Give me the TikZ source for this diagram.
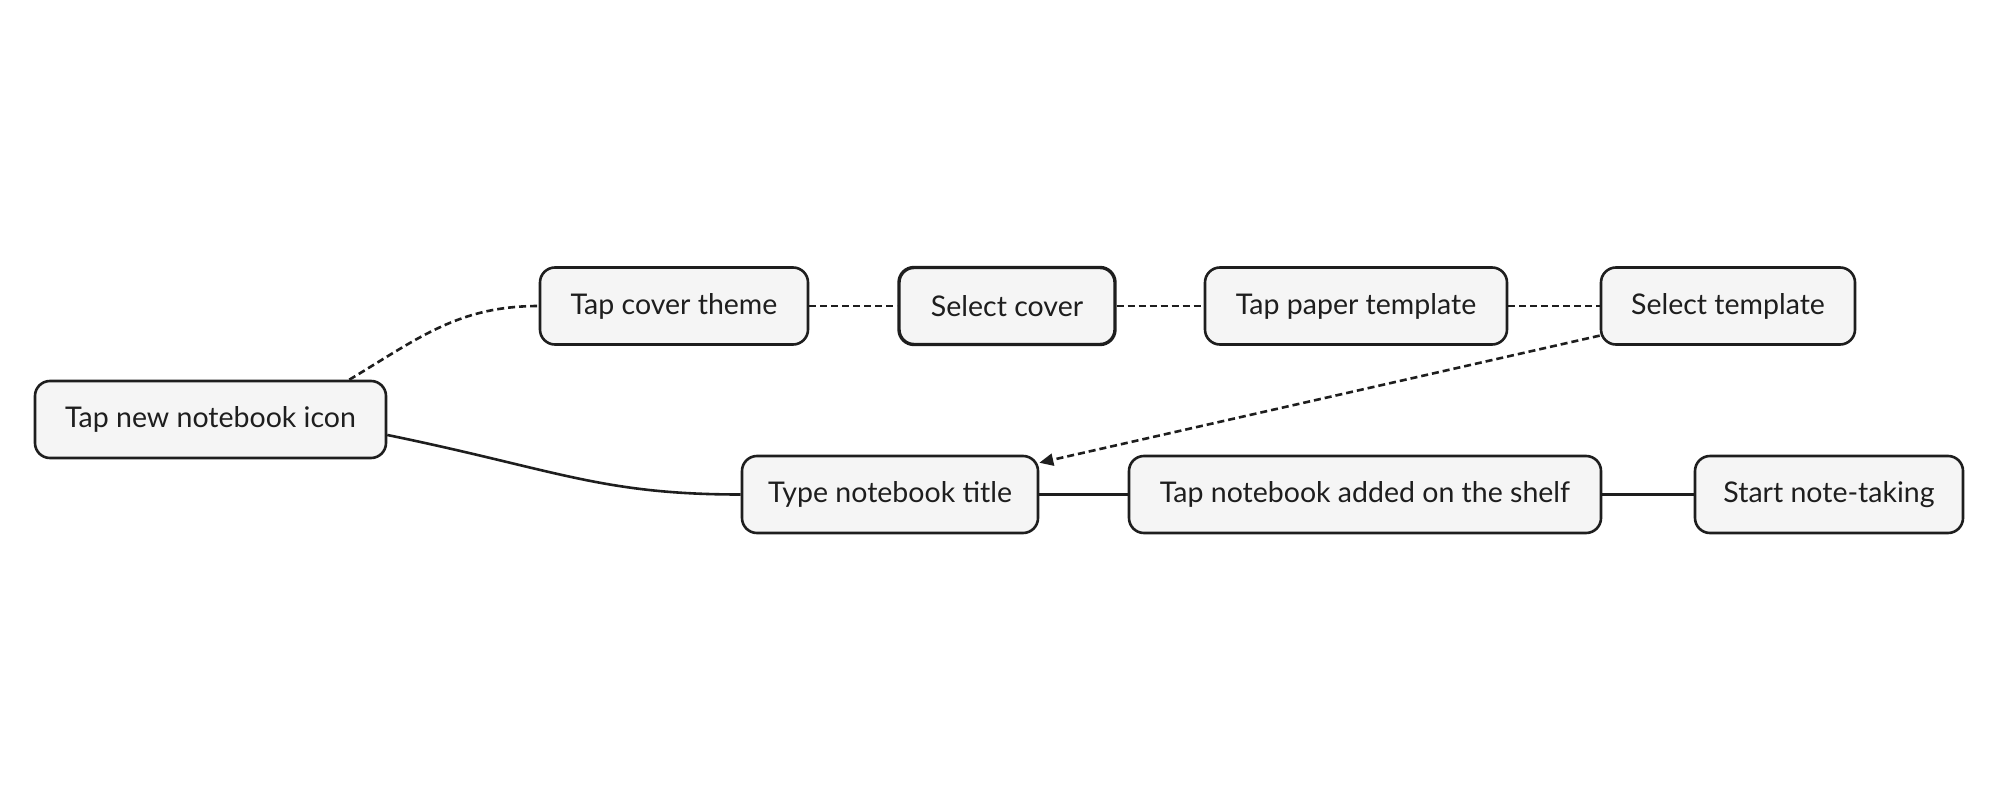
\documentclass[tikz,border=0pt]{standalone}
\usepackage{fontspec}
\setmainfont{Lato}
\usetikzlibrary{arrows.meta}
\definecolor{boxfill}{HTML}{F5F5F5}
\definecolor{ink}{HTML}{1E1E1E}
\tikzset{
  stepbox/.style={draw=ink, fill=boxfill, line width=2.6pt, rounded corners=15pt,
    minimum height=77pt, inner sep=0pt, text=ink,
    font=\fontsize{28.5}{33}\selectfont},
  dashlink/.style={draw=ink, line width=2.6pt, dash pattern=on 7pt off 4pt},
  solidlink/.style={draw=ink, line width=2.6pt},
}
\begin{document}
\begin{tikzpicture}[x=1pt,y=-1pt]
\useasboundingbox (0,0) rectangle (2000,800);
\node[stepbox, minimum width=351pt] (n1) at (210.5,419.5) {Tap new notebook icon};
\node[stepbox, minimum width=268pt] (n2) at (674,306) {Tap cover theme};
\node[stepbox, minimum width=216pt, line width=3.4pt] (n3) at (1007,306) {Select cover};
\node[stepbox, minimum width=302pt] (n4) at (1356,306) {Tap paper template};
\node[stepbox, minimum width=254pt] (n5) at (1728,306) {Select template};
\node[stepbox, minimum width=296pt] (n6) at (890,494.5) {Type notebook title};
\node[stepbox, minimum width=472pt] (n7) at (1365,494.5) {Tap notebook added on the shelf};
\node[stepbox, minimum width=268pt] (n8) at (1829,494.5) {Start note-taking};

\draw[dashlink] (n1.16) .. controls +(70,-42) and +(-80,0) .. (n2.west);
\draw[dashlink] (n2.east) -- (n3.west);
\draw[dashlink] (n3.east) -- (n4.west);
\draw[dashlink] (n4.east) -- (n5.west);
\draw[dashlink, -{Triangle[length=14pt,width=12pt]}] (n5.-167.1) -- (n6.12.6);
\draw[solidlink] (n1.-5.7) .. controls +(170,35) and +(-140,0) .. (n6.west);
\draw[solidlink] (n6.east) -- (n7.west);
\draw[solidlink] (n7.east) -- (n8.west);
\end{tikzpicture}
\end{document}
